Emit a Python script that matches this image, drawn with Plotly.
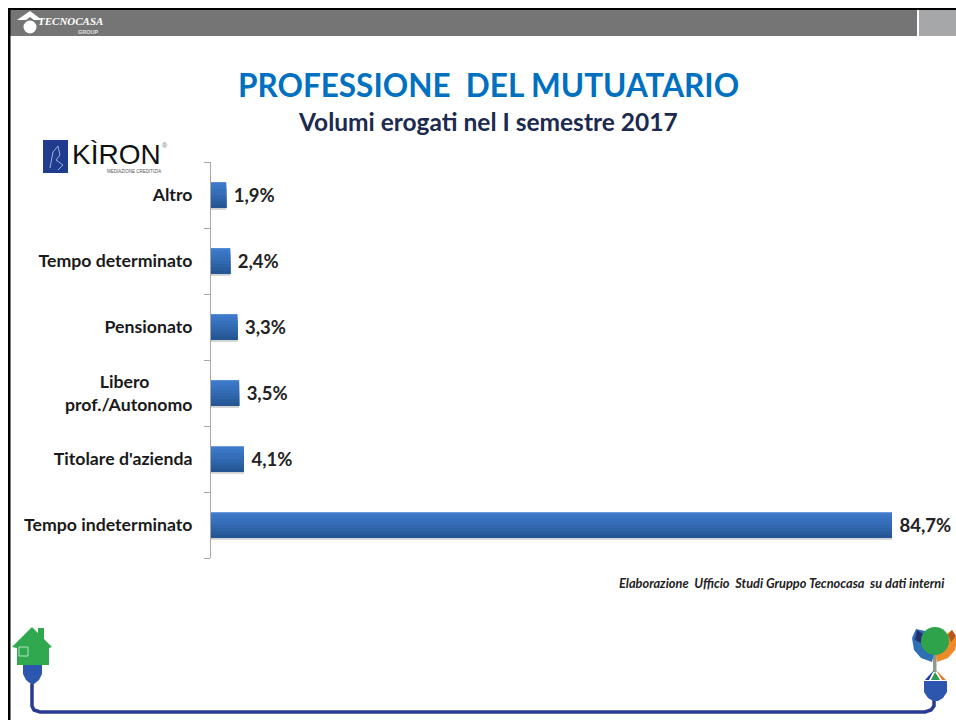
import plotly.graph_objects as go

categories = ["Tempo indeterminato", "Titolare d'azienda",
              "Libero&nbsp;&nbsp;&nbsp;&nbsp;&nbsp;&nbsp;&nbsp;&nbsp;&nbsp;&nbsp;<br>prof./Autonomo",
              "Pensionato", "Tempo determinato", "Altro"]
values = [84.7, 4.1, 3.5, 3.3, 2.4, 1.9]
value_labels = ["84,7%", "4,1%", "3,5%", "3,3%", "2,4%", "1,9%"]
strip_colors = ["#3F7BCB", "#3B76C5", "#3771BE", "#346CB6", "#3067AE", "#2C62A6", "#295C9D", "#255693"]

W, H = 956, 720
def px(x): return x / W
def py(y): return 1 - y / H

fig = go.Figure()

# soft shadow beneath bars
fig.add_trace(go.Bar(y=categories, x=values, orientation="h", width=0.40, offset=-0.225,
                     marker=dict(color="rgba(90,90,90,0.28)", line_width=0), hoverinfo="skip"))
# vertical gradient: each layer runs from its own top down to the bar's bottom
BAR = 0.39
n = len(strip_colors)
for i, c in enumerate(strip_colors):
    fig.add_trace(go.Bar(y=categories, x=values, orientation="h",
                         width=BAR * (n - i) / n, offset=-BAR / 2,
                         marker=dict(color=c, line_width=0), hoverinfo="skip"))
# value labels
fig.add_trace(go.Bar(y=categories, x=values, orientation="h", width=BAR, offset=-BAR / 2,
                     marker=dict(color="rgba(0,0,0,0)", line_width=0),
                     text=value_labels, texttemplate="<b>\u00a0%{text}</b>", textposition="outside", cliponaxis=False,
                     textfont=dict(family="Lato", size=18.5, color="#222222"), hoverinfo="skip"))

def rect(x0, y0, x1, y1, color):
    return dict(type="rect", xref="paper", yref="paper", x0=px(x0), x1=px(x1), y0=py(y0), y1=py(y1),
                fillcolor=color, line_width=0, layer="below")

def path(points, fill=None, line=None, lw=0, close=True, layer="above"):
    d = "M " + " L ".join(f"{px(x):.5f},{py(y):.5f}" for x, y in points) + (" Z" if close else "")
    return dict(type="path", xref="paper", yref="paper", path=d,
                fillcolor=fill if fill else "rgba(0,0,0,0)",
                line=dict(color=line if line else "rgba(0,0,0,0)", width=lw), layer=layer)

def circle(cx, cy, rx, ry, color):
    return dict(type="circle", xref="paper", yref="paper", x0=px(cx - rx), x1=px(cx + rx),
                y0=py(cy + ry), y1=py(cy - ry), fillcolor=color, line_width=0)

BLUE = "#2B3A92"
shapes = [
    rect(10, 10, 917, 36, "#757575"),
    rect(919, 10, 956, 36, "#A6A7A9"),
    rect(8, 8, 956, 10, "#000000"),
    rect(8, 8, 10.5, 720, "#000000"),
    # header logo
    path([(17, 20), (30, 11), (42, 20), (34, 20), (30, 17), (26, 20)], fill="#FFFFFF"),
    circle(30, 27, 6.5, 6.5, "#FFFFFF"),
    # Kiron square
    rect(43, 140, 68, 173, "#1F3C8F"),
    path([(50, 168), (53, 152), (58, 146), (60, 155), (56, 160), (63, 165), (58, 170)],
         line="#9FB2DC", lw=1, close=False),
    # green house
    path([(12, 647), (32, 627), (38, 633), (38, 628), (44, 628), (44, 639), (52, 647), (49, 648),
          (49, 665), (17, 665), (17, 648)], fill="#2FA84F"),
    dict(type="rect", xref="paper", yref="paper", x0=px(19), x1=px(28), y0=py(656), y1=py(647),
         fillcolor="rgba(0,0,0,0)", line=dict(color="#B7E3C0", width=1)),
    rect(26, 658, 28.5, 666, "#2A55A8"),
    rect(35, 658, 37.5, 666, "#2A55A8"),
    # left plug
    path([(23, 665), (42, 665), (42, 674), (39, 680), (34, 684), (31, 684), (26, 680), (23, 674)], fill="#2D56AE"),
    # cable
    path([(32, 684), (32, 706), (34, 710), (40, 712), (925, 712), (931, 710), (934, 706), (934, 700)],
         line=BLUE, lw=3.5, close=False),
    # right plug
    path([(924, 681), (947, 681), (947, 692), (943, 698), (938, 701), (933, 701), (928, 698), (924, 692)], fill="#2D56AE"),
    # tree trunk and leads
    rect(933, 654, 936.5, 672, "#8C9A92"),
    path([(934, 670), (925, 680), (929, 680)], fill="#2B3A92"),
    path([(935, 672), (931, 680), (940, 680)], fill="#2E9A4E"),
    path([(936, 670), (946, 680), (942, 680)], fill="#E07B27"),
    # petals
    path([(916, 629), (912, 638), (914, 650), (921, 658), (932, 662), (935, 650), (930, 632)], fill="#2F6FB6"),
    path([(917, 630), (923, 634), (921, 643), (915, 640)], fill="#23306F"),
    path([(952, 630), (957, 640), (955, 650), (948, 658), (937, 662), (935, 650), (945, 635)], fill="#EE8A28"),
    path([(952, 630), (956, 636), (951, 642), (948, 635)], fill="#B5561F"),
    circle(935, 641, 14, 14, "#2FA24C"),
]

def note(text, x, y, size, color, family="Lato", bold=True, anchor="center", italic=False):
    t = text
    if bold: t = f"<b>{t}</b>"
    if italic: t = f"<i>{t}</i>"
    return dict(text=t, x=px(x), y=py(y), xref="paper", yref="paper", xanchor=anchor, yanchor="middle",
                showarrow=False, font=dict(family=family, size=size, color=color))

annotations = [
    note("PROFESSIONE&nbsp;&nbsp;DEL MUTUATARIO", 488, 85, 31.5, "#0070C0"),
    note("Volumi erogati nel I semestre 2017", 488, 121, 24.5, "#1B2A4E"),
    note("Elaborazione&nbsp;&nbsp;Ufficio&nbsp;&nbsp;Studi Gruppo Tecnocasa&nbsp;&nbsp;su dati interni", 947, 583, 12.8,
         "#222222", anchor="right", italic=True),
    note("TECNOCASA", 70.5, 21, 11, "#FFFFFF", family="Liberation Serif", italic=True),
    note("GROUP", 88, 32, 5.5, "#E0E0E0", family="Liberation Sans"),
    note("KÌRON", 116.5, 154.5, 28, "#111111", family="Liberation Sans", bold=False),
    note("MEDIAZIONE CREDITIZIA", 134, 171.5, 4.5, "#555555", family="Liberation Sans", bold=False),
    note("®", 165, 146, 7, "#777777", family="Liberation Sans", bold=False),
]

fig.update_layout(
    width=W, height=H, autosize=False, margin=dict(l=0, r=0, t=0, b=0),
    paper_bgcolor="#FFFFFF", plot_bgcolor="rgba(0,0,0,0)",
    barmode="overlay", showlegend=False, shapes=shapes, annotations=annotations,
    xaxis=dict(domain=[px(211), 1], range=[0, 745 / 8.04], visible=False),
    yaxis=dict(domain=[py(558), py(162)], type="category", categoryorder="array", categoryarray=categories,
               range=[-0.5, 5.5], showgrid=False, zeroline=False, showline=True, linecolor="#A6A6A6", linewidth=1,
               tickson="boundaries", ticks="outside", ticklen=6, tickcolor="#A6A6A6", ticklabelstandoff=14,
               tickprefix="<b>", ticksuffix="</b>",
               tickfont=dict(family="Lato", size=17.7, color="#1A1A1A")),
)

fig.write_html("out.html", config={"displayModeBar": False},
               post_script="document.body.style.margin='0';document.documentElement.style.overflow='hidden';")
